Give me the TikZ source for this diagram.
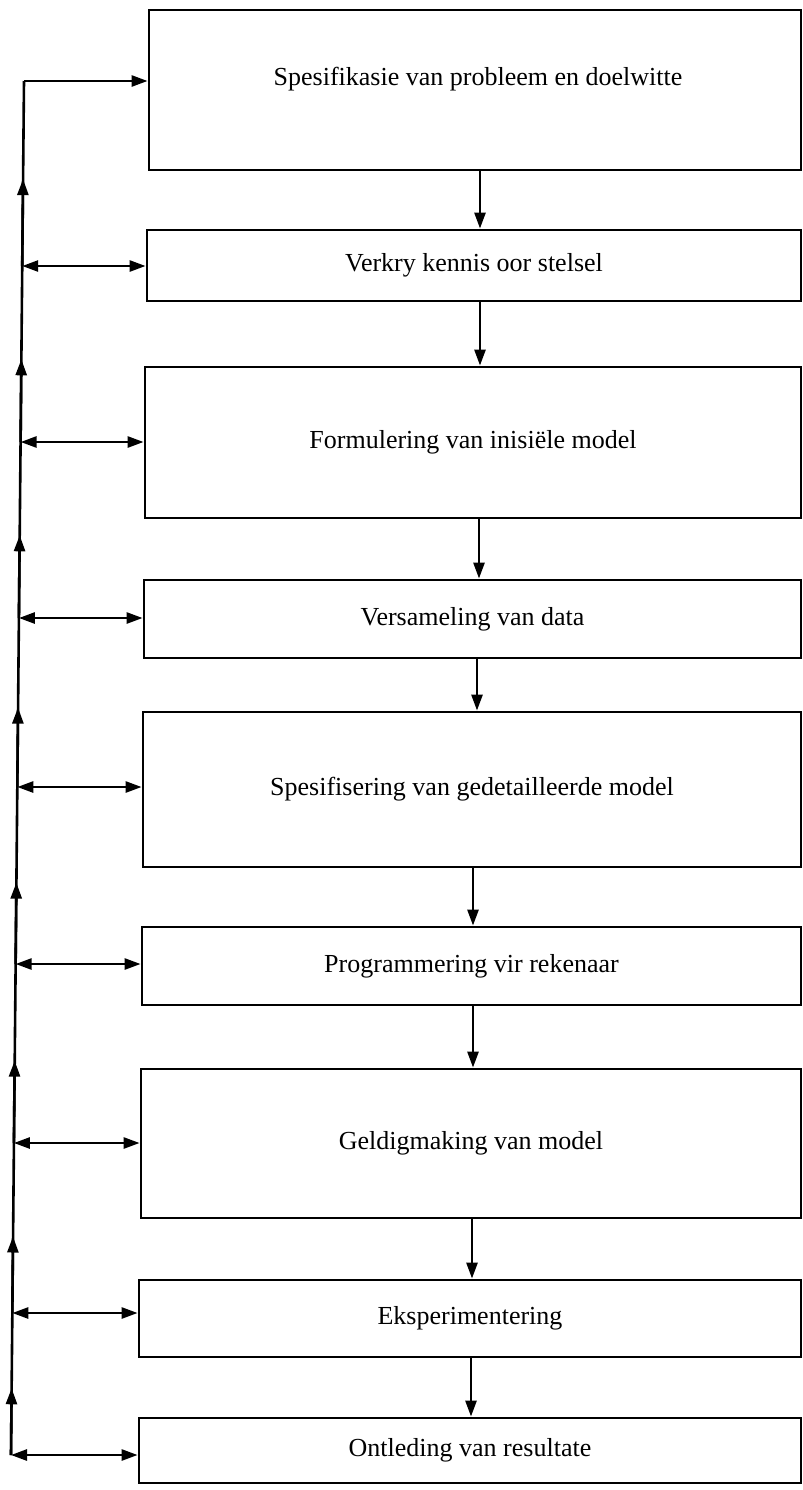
\documentclass[tikz,border=0pt]{standalone}
\usepackage{fontspec}
\setmainfont{Liberation Serif}
\usetikzlibrary{arrows.meta,calc}
\begin{document}
\begin{tikzpicture}[x=0.5pt,y=-0.5pt,
  box/.style={draw, line width=1.4pt, rectangle, inner sep=0pt, font=\fontsize{13}{15}\selectfont},
  lbl/.style={inner sep=0pt, font=\fontsize{13}{15}\selectfont},
  conn/.style={line width=1.3pt},
  tip/.style={-{Triangle[length=8pt,width=5.5pt]}},
  dtip/.style={{Triangle[length=8pt,width=5.5pt]}-{Triangle[length=8pt,width=5.5pt]}}]
\useasboundingbox (0,0) rectangle (803,1490);
% boxes
\node[box, minimum width=326pt, minimum height=80pt] (b1) at (475,90) {};
\node[lbl] (t1) at (478,79) {Spesifikasie van probleem en doelwitte};
\node[box, minimum width=327pt, minimum height=35.5pt] (b2) at (474,265.5) {Verkry kennis oor stelsel};
\node[box, minimum width=328pt, minimum height=75.5pt] (b3) at (473,442.5) {Formulering van inisiële model};
\node[box, minimum width=328.5pt, minimum height=39pt] (b4) at (472.5,619) {Versameling van data};
\node[box, minimum width=329pt, minimum height=77.5pt] (b5) at (472,789.5) {Spesifisering van gedetailleerde model};
\node[box, minimum width=329.5pt, minimum height=39pt] (b6) at (471.5,966) {Programmering vir rekenaar};
\node[box, minimum width=330pt, minimum height=74.5pt] (b7) at (471,1143.5) {Geldigmaking van model};
\node[box, minimum width=331pt, minimum height=38.5pt] (b8) at (470,1318.5) {Eksperimentering};
\node[box, minimum width=331pt, minimum height=32.5pt] (b9) at (470,1450.5) {Ontleding van resultate};
% down-arrow x positions
\coordinate (d1) at (480,0);
\coordinate (d2) at (480,0);
\coordinate (d3) at (479,0);
\coordinate (d4) at (477,0);
\coordinate (d5) at (473,0);
\coordinate (d6) at (473,0);
\coordinate (d7) at (472,0);
\coordinate (d8) at (471,0);
\draw[conn,tip] (b1.south -| d1) -- (b2.north -| d1);
\draw[conn,tip] (b2.south -| d2) -- (b3.north -| d2);
\draw[conn,tip] (b3.south -| d3) -- (b4.north -| d3);
\draw[conn,tip] (b4.south -| d4) -- (b5.north -| d4);
\draw[conn,tip] (b5.south -| d5) -- (b6.north -| d5);
\draw[conn,tip] (b6.south -| d6) -- (b7.north -| d6);
\draw[conn,tip] (b7.south -| d7) -- (b8.north -| d7);
\draw[conn,tip] (b8.south -| d8) -- (b9.north -| d8);
% feedback line junctions
\coordinate (j1) at (24,81);
\coordinate (j2) at (22.2,266);
\coordinate (j3) at (20.6,442);
\coordinate (j4) at (18.9,618);
\coordinate (j5) at (17.3,787);
\coordinate (j6) at (15.6,964);
\coordinate (j7) at (13.9,1143);
\coordinate (j8) at (12.3,1313);
\coordinate (j9) at (11,1455);
\draw[conn] (j9) -- (j1);
\draw[conn,tip] (j2) -- ($(j2)!0.47!(j1)$);
\draw[conn,tip] (j3) -- ($(j3)!0.47!(j2)$);
\draw[conn,tip] (j4) -- ($(j4)!0.47!(j3)$);
\draw[conn,tip] (j5) -- ($(j5)!0.47!(j4)$);
\draw[conn,tip] (j6) -- ($(j6)!0.46!(j5)$);
\draw[conn,tip] (j7) -- ($(j7)!0.46!(j6)$);
\draw[conn,tip] (j8) -- ($(j8)!0.45!(j7)$);
\draw[conn,tip] (j9) -- ($(j9)!0.47!(j8)$);
% horizontal arrows
\draw[conn,tip] (j1) -- (j1 -| b1.west);
\draw[conn,dtip] (j2) -- (j2 -| b2.west);
\draw[conn,dtip] (j3) -- (j3 -| b3.west);
\draw[conn,dtip] (j4) -- (j4 -| b4.west);
\draw[conn,dtip] (j5) -- (j5 -| b5.west);
\draw[conn,dtip] (j6) -- (j6 -| b6.west);
\draw[conn,dtip] (j7) -- (j7 -| b7.west);
\draw[conn,dtip] (j8) -- (j8 -| b8.west);
\draw[conn,dtip] (j9) -- (j9 -| b9.west);
\end{tikzpicture}
\end{document}
